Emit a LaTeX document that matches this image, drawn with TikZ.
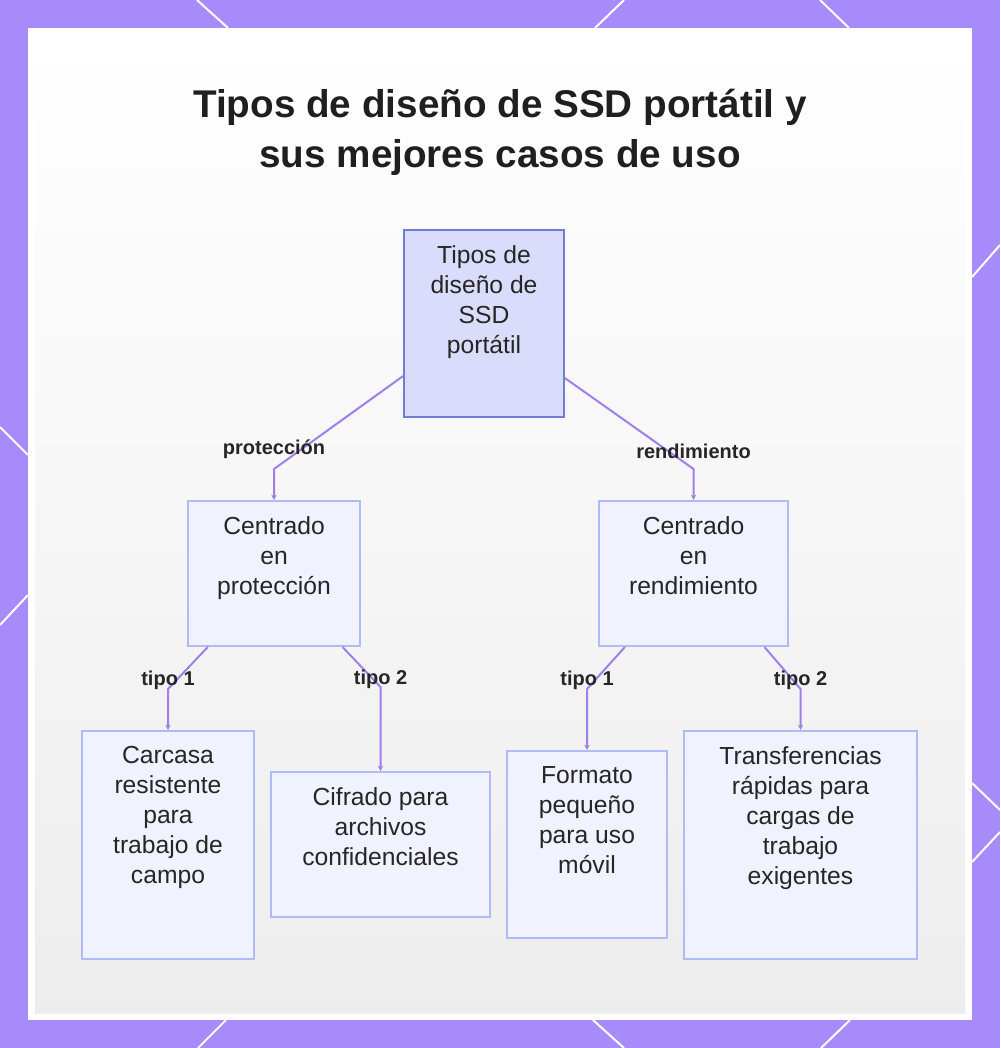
\documentclass[tikz,border=0pt]{standalone}
\usepackage{fontspec}
\setmainfont{Liberation Sans}
\usetikzlibrary{positioning}
\usetikzlibrary{calc}
\usetikzlibrary{arrows.meta}
\definecolor{marco}{HTML}{A78BFA}
\definecolor{raizfill}{HTML}{D9DCFB}
\definecolor{raizline}{HTML}{6E7ED6}
\definecolor{cajafill}{HTML}{F0F3FF}
\definecolor{cajaline}{HTML}{AEBBF7}
\definecolor{lila}{HTML}{A07FEA}
\definecolor{tinta}{HTML}{262626}

\begin{document}
\begin{tikzpicture}[x=0.75pt,y=-0.75pt,
  raiz/.style={draw=raizline,fill=raizfill,line width=1.5pt},
  caja/.style={draw=cajaline,fill=cajafill,line width=1.5pt},
  texto/.style={inner sep=0pt,align=center,text=tinta,font=\fontsize{18.5}{22.5}\selectfont},
  etiq/.style={inner sep=0pt,text=tinta,font=\bfseries\fontsize{15}{16}\selectfont},
  flecha/.style={draw=lila,line width=1.5pt,-{Stealth[length=4pt,width=4pt]}}]
  \useasboundingbox (0,0) rectangle (1000,1048);
  % marco y fondo
  \fill[marco] (0,0) rectangle (1000,1048);
  \foreach \a/\b/\c/\d in {197/0/228/28, 624/0/595/28, 820/0/849/28,
      226/1020/198/1048, 593/1020/624/1048, 850/1020/821/1048,
      0/427/28/455, 28/595/0/625, 1000/245/972/277, 972/783/1000/810, 1000/832/972/862}
    \draw[white,line width=1.5pt] (\a,\b) -- (\c,\d);
  \fill[white] (28,28) rectangle (972,1020);
  \shade[top color=white,bottom color=black!7] (35,35) rectangle (965,1013);

  \node[font=\bfseries\fontsize{29}{37.5}\selectfont,align=center,text=black!88] (titulo) at (500,132)
    {Tipos de diseño de SSD portátil y\\sus mejores casos de uso};

  \node[raiz,minimum width=120pt,minimum height=140.25pt] (tipos) at (484,323.5) {};
  \node[texto,below=12pt of tipos.north] (tipos-t) {Tipos de\\diseño de\\SSD\\portátil};

  \node[caja,minimum width=129pt,minimum height=108.75pt] (prot) at (274,573.5) {};
  \node[texto,below=12pt of prot.north] (prot-t) {Centrado\\en\\protección};
  \node[caja,minimum width=141.75pt,minimum height=108.75pt] (rend) at (693.5,573.5) {};
  \node[texto,below=12pt of rend.north] (rend-t) {Centrado\\en\\rendimiento};

  \node[caja,minimum width=129pt,minimum height=171pt] (carcasa) at (168,845) {};
  \node[texto,below=12pt of carcasa.north] (carcasa-t) {Carcasa\\resistente\\para\\trabajo de\\campo};
  \node[caja,minimum width=164.25pt,minimum height=108.75pt] (cifrado) at (380.5,844.5) {};
  \node[texto,below=12pt of cifrado.north] (cifrado-t) {Cifrado para\\archivos\\confidenciales};
  \node[caja,minimum width=120pt,minimum height=140.25pt] (formato) at (587,844.5) {};
  \node[texto,below=12pt of formato.north] (formato-t) {Formato\\pequeño\\para uso\\móvil};
  \node[caja,minimum width=174.75pt,minimum height=171pt] (transf) at (800.5,845) {};
  \node[texto,below=12pt of transf.north] (transf-t) {Transferencias\\rápidas para\\cargas de\\trabajo\\exigentes};

  \draw[flecha] (tipos.213) -- ($(prot.north)+(0,-31)$) node[etiq,above=7pt] (e-prot) {protección} -- (prot.north);
  \draw[flecha] (tipos.326) -- ($(rend.north)+(0,-31)$) node[etiq,above=7pt] (e-rend) {rendimiento} -- (rend.north);
  \draw[flecha] (prot.228) -- ($(carcasa.north)+(0,-41)$) node[etiq,above=-1pt] (e-p1) {tipo 1} -- (carcasa.north);
  \draw[flecha] (prot.313) -- ($(cifrado.north)+(0,-84)$) node[etiq,above=-2pt] (e-p2) {tipo 2} -- (cifrado.north);
  \draw[flecha] (rend.227) -- ($(formato.north)+(0,-61)$) node[etiq,above=-1pt] (e-r1) {tipo 1} -- (formato.north);
  \draw[flecha] (rend.314) -- ($(transf.north)+(0,-41)$) node[etiq,above=-1pt] (e-r2) {tipo 2} -- (transf.north);
\end{tikzpicture}
\end{document}
